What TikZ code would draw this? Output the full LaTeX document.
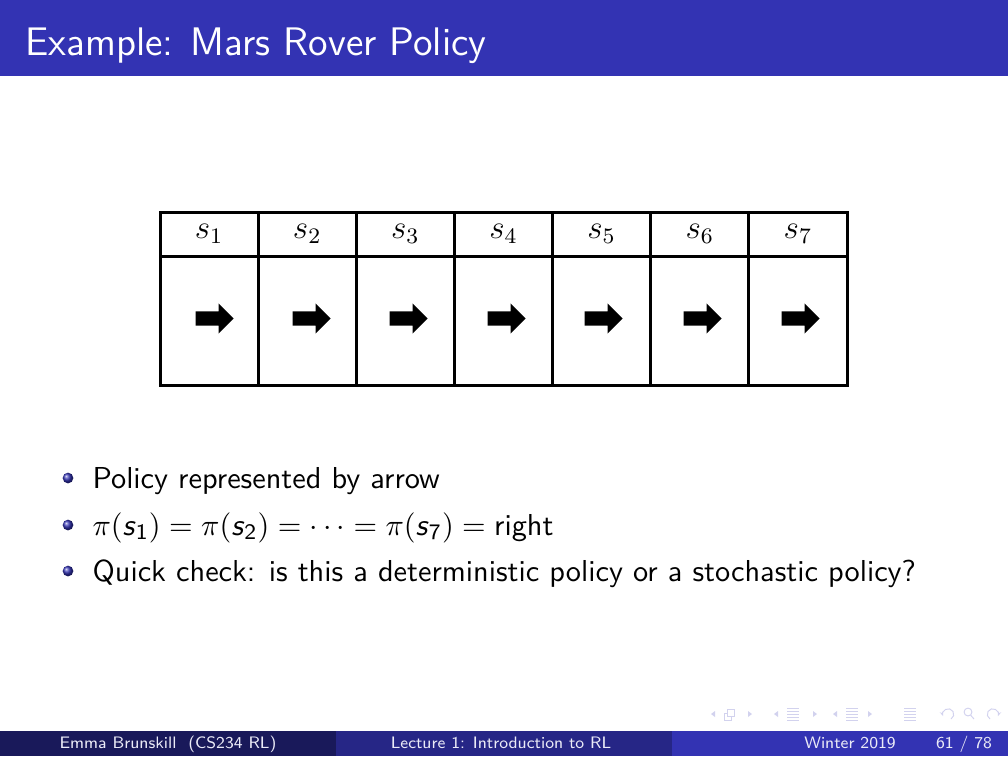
\documentclass[tikz,border=0pt]{standalone}
\usetikzlibrary{shapes.arrows,arrows.meta}
\definecolor{rovblue}{RGB}{51,51,179}
\colorlet{footdark}{rovblue!50!black}
\colorlet{footmid}{rovblue!75!black}
\colorlet{navgray}{rovblue!22}
\newcommand{\sst}[1]{\textsf{\textit{s}}_{\mathsf{#1}}}

\begin{document}
\begin{tikzpicture}[
        x=0.127mm,
        y=-0.127mm,
        every node/.style={font=\sffamily, inner sep=0pt},
        band/.style={fill=rovblue, draw=none},
        headcell/.style={
            rectangle,
            draw,
            line width=0.38mm,
            minimum width=12.46mm,
            minimum height=5.59mm,
            outer sep=0pt,
            font=\fontsize{11.5}{13}\selectfont
        },
        bodycell/.style={
            rectangle,
            draw,
            line width=0.38mm,
            minimum width=12.46mm,
            minimum height=16.5mm,
            outer sep=0pt
        },
        move/.style={
            single arrow,
            fill=black,
            draw=none,
            minimum height=4.83mm,
            inner sep=0.84mm,
            single arrow head extend=1.0mm
        },
        item/.style={anchor=base west, font=\sffamily\fontsize{10.95}{13}\selectfont},
        foot/.style={anchor=base, text=white!90!rovblue, font=\sffamily\fontsize{6}{7}\selectfont},
        nav/.style={navgray, line width=0.35pt}
    ]
    \useasboundingbox (0,0) rectangle (1008,756);

    % Title bar
    \fill[band] (0,0) rectangle (1008,76);
    \node[anchor=base west, text=white, font=\sffamily\fontsize{14.4}{17}\selectfont] (title) at (25,55) {Example: Mars Rover Policy};

    % States
    \node[headcell] (h1) at (209.07,234) {$s_1$};
    \node[headcell] (h2) at (307.21,234) {$s_2$};
    \node[headcell] (h3) at (405.36,234) {$s_3$};
    \node[headcell] (h4) at (503.50,234) {$s_4$};
    \node[headcell] (h5) at (601.64,234) {$s_5$};
    \node[headcell] (h6) at (699.79,234) {$s_6$};
    \node[headcell] (h7) at (797.93,234) {$s_7$};

    % Policy
    \node[bodycell] (c1) at (209.07,321) {};
    \node[bodycell] (c2) at (307.21,321) {};
    \node[bodycell] (c3) at (405.36,321) {};
    \node[bodycell] (c4) at (503.50,321) {};
    \node[bodycell] (c5) at (601.64,321) {};
    \node[bodycell] (c6) at (699.79,321) {};
    \node[bodycell] (c7) at (797.93,321) {};

    \node[move] (a1) at (211,318.5) {};
    \node[move] (a2) at (308,318.5) {};
    \node[move] (a3) at (405,318.5) {};
    \node[move] (a4) at (503,318.5) {};
    \node[move] (a5) at (600,318.5) {};
    \node[move] (a6) at (699,318.5) {};
    \node[move] (a7) at (797,318.5) {};

    % Bullets
    \shade[ball color=rovblue] (68,478) circle[radius=0.68mm];
    \node[item] (b1) at (92,488) {Policy represented by arrow};
    \shade[ball color=rovblue] (68,525) circle[radius=0.68mm];
    \node[item] (b2) at (92,535) {$\pi(\sst{1}) = \pi(\sst{2}) = \cdots = \pi(\sst{7}) = \textsf{right}$};
    \shade[ball color=rovblue] (68,571) circle[radius=0.68mm];
    \node[item] (b3) at (92,581) {Quick check: is this a deterministic policy or a stochastic policy?};

    % Navigation
    \fill[nav] (715,711) -- (711,714) -- (715,717) -- cycle;
    \draw[nav] (724,713) rectangle (731,720);
    \draw[nav, fill=white] (727,709) rectangle (734,716);
    \fill[nav] (748,711) -- (752,714) -- (748,717) -- cycle;
    \fill[nav] (778,711) -- (774,714) -- (778,717) -- cycle;
    \foreach \yy in {708,711,714,717,720} \draw[nav] (787,\yy) -- (799,\yy);
    \fill[nav] (813,711) -- (817,714) -- (813,717) -- cycle;
    \fill[nav] (837,711) -- (833,714) -- (837,717) -- cycle;
    \foreach \yy in {708,711,714,717,720} \draw[nav] (846,\yy) -- (858,\yy);
    \fill[nav] (868,711) -- (872,714) -- (868,717) -- cycle;
    \foreach \yy in {708,711,714,717,720} \draw[nav] (904,\yy) -- (916,\yy);
    \draw[nav, -{Stealth[length=0.6mm]}] (951,719) arc[start angle=-60, end angle=200, radius=0.7mm];
    \draw[nav] (968,712) circle[radius=0.5mm];
    \draw[nav] (970.5,715) -- (974,719);
    \draw[nav, -{Stealth[length=0.6mm]}] (990,719) arc[start angle=240, end angle=-20, radius=0.7mm];

    % Footer
    \fill[footdark] (0,731) rectangle (336,756);
    \fill[footmid] (336,731) rectangle (672,756);
    \fill[rovblue] (672,731) rectangle (1008,756);
    \node[foot] (author) at (168,748) {Emma Brunskill\ \ (CS234 RL)};
    \node[foot] (lecture) at (501,748) {Lecture 1: Introduction to RL};
    \node[foot] (term) at (850,748) {Winter 2019};
    \node[foot] (page) at (964,748) {61 / 78};
\end{tikzpicture}
\end{document}
